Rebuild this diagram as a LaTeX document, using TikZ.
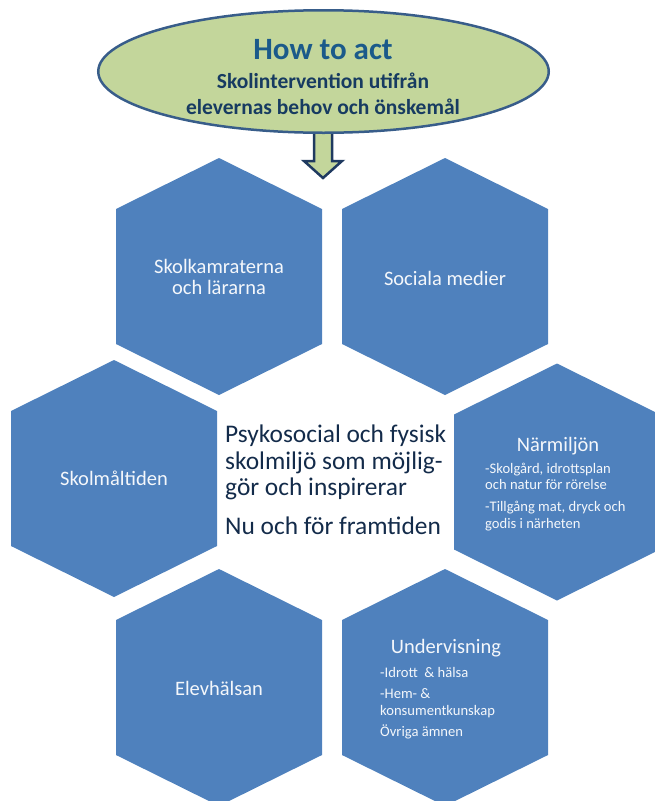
\documentclass[tikz,border=0pt]{standalone}
\usepackage{fontspec}
\setmainfont{Carlito}
\usetikzlibrary{shapes.geometric,calc}
\definecolor{hexblue}{HTML}{4F81BD}
\definecolor{leaf}{HTML}{C3D69B}
\definecolor{ringblue}{HTML}{385D8A}
\definecolor{arrowline}{HTML}{1F3A60}
\definecolor{titleblue}{HTML}{1B5A8A}
\definecolor{subblue}{HTML}{173B61}
\definecolor{navytext}{HTML}{132B4A}
\definecolor{hextext}{HTML}{F4F7FB}
\begin{document}
\begin{tikzpicture}[x=1pt,y=-1pt,
  hexcell/.style={fill=hexblue},
  whitebig/.style={text=hextext,font=\fontsize{20.5}{20.5}\selectfont,align=center,anchor=base,inner sep=0},
  whitesmall/.style={text=hextext,font=\fontsize{14.6}{16.5}\selectfont,align=left,anchor=base west,inner sep=0},
  centertext/.style={text=navytext,font=\fontsize{25.4}{26.5}\selectfont,align=left,anchor=base west,inner sep=0},
  arrowstyle/.style={fill=leaf,draw=arrowline,line width=2.5pt,line join=miter},
  goalstyle/.style={ellipse,draw=ringblue,line width=2.5pt,fill=leaf,minimum width=450.5,minimum height=122.5,inner sep=0}
]
\useasboundingbox (0,0) rectangle (655,801);
\clip (0,0) rectangle (655,801);
\foreach \cx/\cy in {219/276.5, 445/276.5, 114/478.5, 557/482, 219/687.5, 445/687.5}
  \fill[hexcell,shift={(\cx,\cy)}] (0,-118.5) -- (103,-67.5) -- (103,67.5) -- (0,118.5) -- (-103,67.5) -- (-103,-67.5) -- cycle;
\coordinate (arrowtop) at (323,128);
\coordinate (arrowtip) at (323,178);
\draw[arrowstyle] ($(arrowtop)+(-9,0)$) -- ++(0,33) -- ++(-10,0) -- (arrowtip) -- ++(19,-17) -- ++(-10,0) -- ++(0,-33) -- cycle;
\node[goalstyle] (goal) at (323.5,71.5) {};
\node[font=\bfseries\fontsize{31}{36}\selectfont,text=titleblue,anchor=base,inner sep=0] (title) at (323,59) {How to act};
\node[font=\bfseries\fontsize{21.5}{26.5}\selectfont,text=subblue,align=center,anchor=base,inner sep=0] (aim) at (323,114.5) {Skolintervention utifrån\\elevernas behov och önskemål};
\node[whitebig] (peers) at (219,294) {Skolkamraterna\\och lärarna};
\node[whitebig] (media) at (445,285) {Sociala medier};
\node[whitebig] (meal) at (114,485.7) {Skolmåltiden};
\node[whitebig] (health) at (219,695) {Elevhälsan};
\node[whitebig] (near) at (558,451) {Närmiljön};
\node[whitesmall] (neardet) at (485,528.3) {-Skolgård, idrottsplan\\och natur för rörelse\\[5.5pt]-Tillgång mat, dryck och\\godis i närheten};
\node[whitebig] (teach) at (446,653.3) {Undervisning};
\node[whitesmall] (teachdet) at (380,736.7) {-Idrott~ \& hälsa\\[5pt]-Hem- \&\\konsumentkunskap\\[5pt]Övriga ämnen};
\node[centertext] (core) at (225,534.3) {Psykosocial och fysisk\\skolmiljö som möjlig-\\gör och inspirerar\\[12pt]Nu och för framtiden};
\end{tikzpicture}
\end{document}
